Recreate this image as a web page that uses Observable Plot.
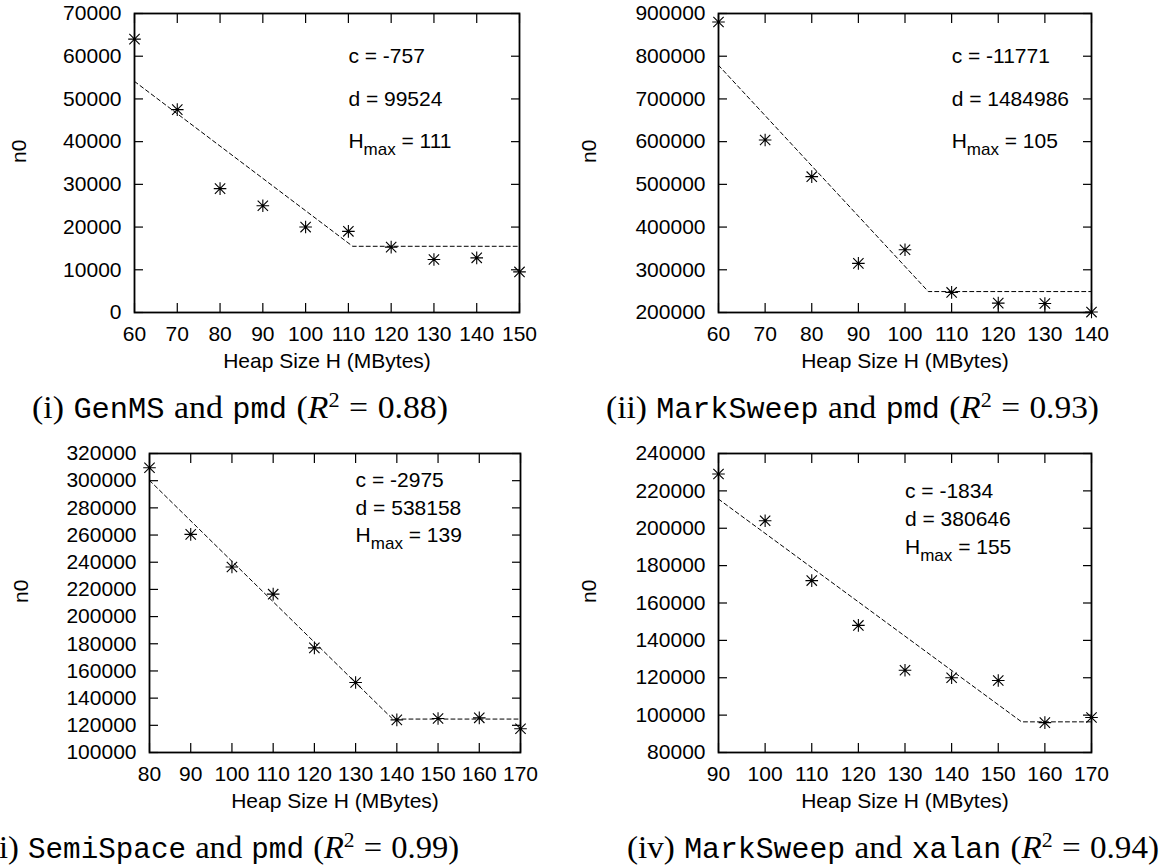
<!DOCTYPE html>
<html><head><meta charset="utf-8">
<script src="https://cdn.jsdelivr.net/npm/d3@7"></script>
<script src="https://cdn.jsdelivr.net/npm/@observablehq/plot@0.6"></script>
<style>
body{margin:0;background:#fff;}
#root{position:relative;width:1161px;height:867px;overflow:hidden;background:#fff;}
#root svg{position:absolute;}
.cap{position:absolute;white-space:nowrap;font-family:"Liberation Serif","DejaVu Serif",serif;font-size:32px;line-height:36px;word-spacing:1px;color:#000;transform-origin:0 50%;}
.cap tt{font-family:"Liberation Mono","DejaVu Sans Mono",monospace;font-size:0.9em;word-spacing:0;}
.cap sup{font-size:0.66em;line-height:0;vertical-align:0.5em;}
</style></head>
<body><div id="root"></div>
<script>
// ---- Panel (i) GenMS and pmd ----
const heap1 = [60, 70, 80, 90, 100, 110, 120, 130, 140, 150];
const n0_1 = [64000, 47500, 29000, 25000, 20000, 19000, 15300, 12400, 12800, 9500];
const fitH1 = [60, 111, 150];
const fitN1 = [54100, 15500, 15500];
const ann1 = ["c = -757", "d = 99524", "Hmax = 111"];
const annY1 = [60000, 50000, 40000];
const xTicks1 = [60, 70, 80, 90, 100, 110, 120, 130, 140, 150];
const yTicks1 = [0, 10000, 20000, 30000, 40000, 50000, 60000, 70000];

// ---- Panel (ii) MarkSweep and pmd ----
const heap2 = [60, 70, 80, 90, 100, 110, 120, 130, 140];
const n0_2 = [880000, 604000, 518000, 315000, 347000, 247000, 222000, 221000, 201000];
const fitH2 = [60, 105, 140];
const fitN2 = [778700, 249000, 249000];
const ann2 = ["c = -11771", "d = 1484986", "Hmax = 105"];
const annY2 = [800000, 700000, 600000];
const xTicks2 = [60, 70, 80, 90, 100, 110, 120, 130, 140];
const yTicks2 = [200000, 300000, 400000, 500000, 600000, 700000, 800000, 900000];

// ---- Panel (iii) SemiSpace and pmd ----
const heap3 = [80, 90, 100, 110, 120, 130, 140, 150, 160, 170];
const n0_3 = [309500, 260500, 236500, 216500, 177000, 151500, 124000, 125000, 125500, 117500];
const fitH3 = [80, 139, 170];
const fitN3 = [300200, 124600, 124600];
const ann3 = ["c = -2975", "d = 538158", "Hmax = 139"];
const annY3 = [300000, 280000, 260000];
const xTicks3 = [80, 90, 100, 110, 120, 130, 140, 150, 160, 170];
const yTicks3 = [100000, 120000, 140000, 160000, 180000, 200000, 220000, 240000, 260000, 280000, 300000, 320000];

// ---- Panel (iv) MarkSweep and xalan ----
const heap4 = [90, 100, 110, 120, 130, 140, 150, 160, 170];
const n0_4 = [229000, 204000, 172000, 148000, 124000, 120000, 118500, 96000, 98700];
const fitH4 = [90, 155, 170];
const fitN4 = [215600, 96400, 96400];
const ann4 = ["c = -1834", "d = 380646", "Hmax = 155"];
const annY4 = [220000, 205000, 190000];
const xTicks4 = [90, 100, 110, 120, 130, 140, 150, 160, 170];
const yTicks4 = [80000, 100000, 120000, 140000, 160000, 180000, 200000, 220000, 240000];

const xLabel = "Heap Size H (MBytes)";
const yLabel = "n0";

const captions = [
  '(i) <tt>GenMS</tt> and <tt>pmd</tt> (<i>R</i><sup>2</sup> = 0.88)',
  '(ii) <tt>MarkSweep</tt> and <tt>pmd</tt> (<i>R</i><sup>2</sup> = 0.93)',
  '(iii) <tt>SemiSpace</tt> and <tt>pmd</tt> (<i>R</i><sup>2</sup> = 0.99)',
  '(iv) <tt>MarkSweep</tt> and <tt>xalan</tt> (<i>R</i><sup>2</sup> = 0.94)'
];

// gnuplot-style asterisk: plus + cross
const star = {
  draw(ctx, size) {
    const h = Math.sqrt(size / Math.PI);
    const d = h * 0.82;
    ctx.moveTo(-h, 0); ctx.lineTo(h, 0);
    ctx.moveTo(0, -h); ctx.lineTo(0, h);
    ctx.moveTo(-d, -d); ctx.lineTo(d, d);
    ctx.moveTo(-d, d); ctx.lineTo(d, -d);
  }
};

const root = document.getElementById("root");
const FONT = '"Liberation Sans", Arial, Helvetica, sans-serif';
const FS = 21;

function panel(cfg) {
  const pts = cfg.heap.map((h, i) => ({h, n: cfg.n0[i]}));
  const fit = cfg.fitH.map((h, i) => ({h, n: cfg.fitN[i]}));
  const ann = cfg.ann.map((t, i) => ({t, x: cfg.annX, y: cfg.annY[i]}));
  const fmt = d => String(d);
  const none = () => "";
  const svg = Plot.plot({
    width: cfg.width, height: 380,
    marginLeft: cfg.ml, marginRight: cfg.mr, marginTop: 13, marginBottom: 68,
    style: {fontFamily: FONT, fontSize: FS + "px", color: "#000", background: "transparent", overflow: "visible"},
    x: {domain: cfg.xDomain},
    y: {domain: cfg.yDomain},
    marks: [
      Plot.axisX({ticks: cfg.xTicks, tickSize: 0, tickPadding: 14, tickFormat: fmt, label: null, fontSize: FS}),
      Plot.axisX({ticks: cfg.xTicks, tickSize: -9, tickFormat: none, label: null, strokeWidth: 1.2}),
      Plot.axisX({anchor: "top", ticks: cfg.xTicks, tickSize: -9, tickFormat: none, label: null, strokeWidth: 1.2}),
      Plot.axisY({ticks: cfg.yTicks, tickSize: 0, tickPadding: 13, tickFormat: fmt, label: null, fontSize: FS}),
      Plot.axisY({ticks: cfg.yTicks, tickSize: -9, tickFormat: none, label: null, strokeWidth: 1.2}),
      Plot.axisY({anchor: "right", ticks: cfg.yTicks, tickSize: -9, tickFormat: none, label: null, strokeWidth: 1.2}),
      Plot.frame({stroke: "black", strokeWidth: 1.8}),
      Plot.line(fit, {x: "h", y: "n", stroke: "black", strokeWidth: 1, strokeDasharray: "4,3"}),
      Plot.dot(pts, {x: "h", y: "n", symbol: star, r: 6.3, fill: "none", stroke: "black", strokeWidth: 1.1}),
      Plot.text(ann, {x: "x", y: "y", text: "t", textAnchor: "start", fontSize: FS}),
      Plot.text([xLabel], {frameAnchor: "bottom", dy: 55, fontSize: FS}),
      Plot.text([yLabel], {frameAnchor: "left", dx: cfg.yLabelDx, rotate: -90, fontSize: FS})
    ]
  });
  svg.style.left = cfg.left + "px";
  svg.style.top = cfg.top + "px";
  // subscript for H_max
  svg.querySelectorAll("text").forEach(el => {
    const s = el.textContent;
    if (s.startsWith("Hmax")) {
      const NS = "http://www.w3.org/2000/svg";
      el.textContent = "H";
      const sub = document.createElementNS(NS, "tspan");
      sub.setAttribute("dy", "7"); sub.setAttribute("font-size", "17");
      sub.textContent = "max";
      const rest = document.createElementNS(NS, "tspan");
      rest.setAttribute("dy", "-7");
      rest.textContent = s.slice(4);
      el.appendChild(sub); el.appendChild(rest);
    }
  });
  root.appendChild(svg);
}

panel({heap: heap1, n0: n0_1, fitH: fitH1, fitN: fitN1, ann: ann1, annX: 110, annY: annY1,
  xDomain: [60, 150], yDomain: [0, 70000], xTicks: xTicks1, yTicks: yTicks1,
  width: 580, ml: 134, mr: 61, left: 0, top: 0, yLabelDx: -115});
panel({heap: heap2, n0: n0_2, fitH: fitH2, fitN: fitN2, ann: ann2, annX: 110, annY: annY2,
  xDomain: [60, 140], yDomain: [200000, 900000], xTicks: xTicks2, yTicks: yTicks2,
  width: 581, ml: 138, mr: 70, left: 580, top: 0, yLabelDx: -129});
panel({heap: heap3, n0: n0_3, fitH: fitH3, fitN: fitN3, ann: ann3, annX: 130, annY: annY3,
  xDomain: [80, 170], yDomain: [100000, 320000], xTicks: xTicks3, yTicks: yTicks3,
  width: 580, ml: 149, mr: 60, left: 0, top: 440, yLabelDx: -128});
panel({heap: heap4, n0: n0_4, fitH: fitH4, fitN: fitN4, ann: ann4, annX: 130, annY: annY4,
  xDomain: [90, 170], yDomain: [80000, 240000], xTicks: xTicks4, yTicks: yTicks4,
  width: 581, ml: 138, mr: 70, left: 580, top: 440, yLabelDx: -129});

const capBox = [[32, 448, 389], [606, 1099, 389], [-30, 459, 829], [627, 1159, 829]];
captions.forEach((html, i) => {
  const d = document.createElement("div");
  d.className = "cap";
  d.innerHTML = html;
  root.appendChild(d);
  const [l, r, t] = capBox[i];
  const w = d.getBoundingClientRect().width;
  const s = Math.max(0.9, Math.min(1.1, (r - l) / w));
  d.style.left = l + "px";
  d.style.top = t + "px";
  d.style.transform = `scaleX(${s})`;
});
</script>
</body></html>
